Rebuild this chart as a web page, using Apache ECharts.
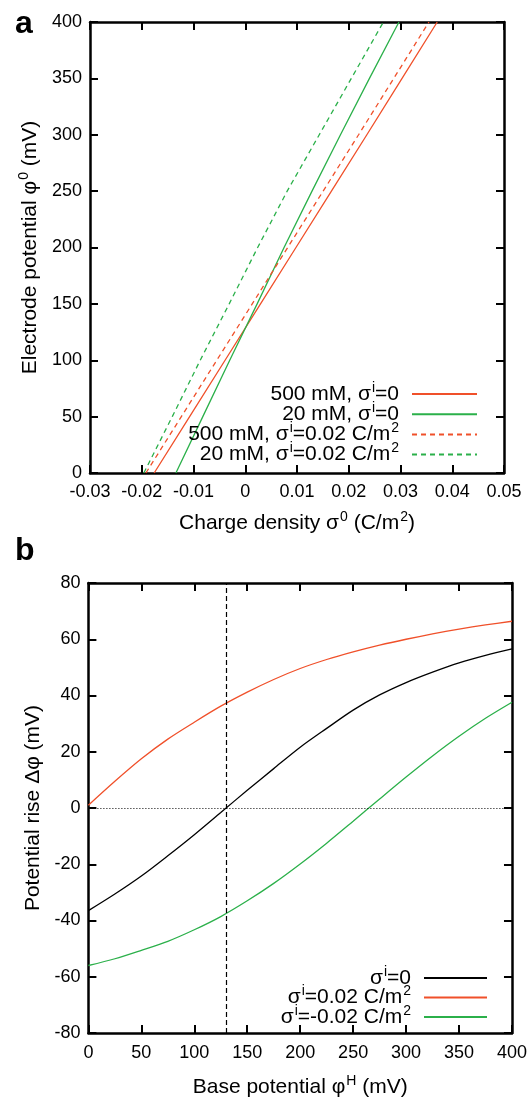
<!DOCTYPE html>
<html><head><meta charset="utf-8">
<script src="https://cdn.jsdelivr.net/npm/echarts@6/dist/echarts.min.js"></script>
<style>html,body{margin:0;padding:0;background:#fff}#c{width:530px;height:1099px}</style>
</head><body><div id="c"></div><script>
// ---------- Panel a data (electrode potential levels, mV -> charge density, C/m2) ----------
const aPotentialLevels = [0, 50, 100, 150, 200, 250, 300, 350, 400];
const a500mMZero   = [-0.0176, -0.01075, -0.0039, 0.00295, 0.0098, 0.01665, 0.0235, 0.0303, 0.0371];
const a20mMZero    = [-0.0134, -0.0082, -0.0030, 0.0023, 0.0075, 0.0129, 0.0184, 0.0240, 0.0297];
const a500mMCharged = [-0.0192, -0.01235, -0.0055, 0.00135, 0.0082, 0.01505, 0.0219, 0.0287, 0.0355];
const a20mMCharged  = [-0.0196, -0.0141, -0.0087, -0.0031, 0.0024, 0.0081, 0.0143, 0.0205, 0.0267];
const aXRange = [-0.03, 0.05, 0.01];
const aYRange = [0, 400, 50];

// ---------- Panel b data (base potential, mV -> potential rise, mV) ----------
const bBasePotential = [0, 25, 50, 75, 100, 125, 150, 175, 200, 225, 250, 275, 300, 325, 350, 375, 400];
const bZeroCharge = [-36.5, -30.6, -24.2, -17.0, -9.5, -1.6, 6.3, 14.0, 21.6, 28.3, 34.8, 40.2, 44.6, 48.3, 51.6, 54.3, 56.6];
const bPosCharge  = [1.0, 9.5, 17.5, 24.5, 30.5, 36.2, 41.2, 45.7, 49.6, 52.8, 55.5, 57.9, 60.0, 61.9, 63.6, 65.1, 66.4];
const bNegCharge  = [-56.0, -53.6, -50.6, -47.4, -43.3, -38.6, -33.0, -26.8, -19.9, -12.5, -4.7, 3.2, 11.0, 18.5, 25.5, 31.9, 37.6];
const bRefPotential = 130;
const bZeroRise = 0;
const bXRange = [0, 400, 50];
const bYRange = [-80, 80, 20];

const RED = '#f0502a';
const GREEN = '#2bb04a';
const FF = "'Liberation Sans', Arial, Helvetica, sans-serif";

const legendLabels = {
  'a1': '500 mM, σ{s|i}=0',
  'a2': '20 mM, σ{s|i}=0',
  'a3': '500 mM, σ{s|i}=0.02 C/m{s|2}',
  'a4': '20 mM, σ{s|i}=0.02 C/m{s|2}',
  'b1': 'σ{s|i}=0',
  'b2': 'σ{s|i}=0.02 C/m{s|2}',
  'b3': 'σ{s|i}=-0.02 C/m{s|2}'
};

const supRich = { s: { fontSize: 14, fontFamily: FF, color: '#000', verticalAlign: 'bottom', lineHeight: 20, padding: [0, 0, 9, 1] } };

function pairsA(xs) { return aPotentialLevels.map((y, i) => [xs[i], y]); }
function pairsB(ys) { return bBasePotential.map((x, i) => [x, ys[i]]); }

function axisBase(grid, range, pos, showLabel, nameObj, margin) {
  const o = {
    type: 'value', gridIndex: grid, min: range[0], max: range[1], interval: range[2], position: pos,
    axisLine: { show: true, onZero: false, lineStyle: { color: '#000', width: 2.5 } },
    axisTick: { show: true, inside: true, length: 8, lineStyle: { color: '#000', width: 2 } },
    axisLabel: { show: showLabel, color: '#000', fontSize: 18, fontFamily: FF, margin: margin || 9 },
    splitLine: { show: false }
  };
  if (nameObj) Object.assign(o, nameObj);
  return o;
}

const nameStyle = { fontSize: 21, fontFamily: FF, color: '#000', lineHeight: 20, rich: supRich };
const legendText = { fontSize: 21, fontFamily: FF, color: '#000', lineHeight: 20, rich: Object.assign({ g: { width: 8 } }, supRich) };

const option = {
  animation: false,
  backgroundColor: '#fff',
  title: [
    { text: 'a', left: 10, top: 3, textStyle: { fontSize: 32, fontWeight: 'bold', fontFamily: FF, color: '#000' } },
    { text: 'b', left: 10, top: 530, textStyle: { fontSize: 32, fontWeight: 'bold', fontFamily: FF, color: '#000' } }
  ],
  grid: [
    { left: 90, right: 26, top: 22, height: 451 },
    { left: 88.4, right: 15, top: 583, height: 450 }
  ],
  xAxis: [
    axisBase(0, aXRange, 'bottom', true, { name: 'Charge density σ{s|0} (C/m{s|2})', nameLocation: 'middle', nameGap: 40, nameTextStyle: nameStyle }, 10),
    axisBase(0, aXRange, 'top', false),
    axisBase(1, bXRange, 'bottom', true, { name: 'Base potential φ{s|H} (mV)', nameLocation: 'middle', nameGap: 44, nameTextStyle: nameStyle }, 11),
    axisBase(1, bXRange, 'top', false)
  ],
  yAxis: [
    axisBase(0, aYRange, 'left', true, { name: 'Electrode potential φ{s|0} (mV)', nameLocation: 'middle', nameGap: 47, nameTextStyle: nameStyle }, 8),
    axisBase(0, aYRange, 'right', false),
    axisBase(1, bYRange, 'left', true, { name: 'Potential rise Δφ (mV)', nameLocation: 'middle', nameGap: 45, nameTextStyle: nameStyle }, 8),
    axisBase(1, bYRange, 'right', false)
  ],
  legend: [
    {
      data: ['a1', 'a2', 'a3', 'a4'], orient: 'vertical', align: 'right', right: 52, top: 381, padding: 0,
      itemWidth: 65, itemHeight: 14, itemGap: -3.3, itemStyle: { opacity: 0 },
      formatter: n => legendLabels[n] + '{g|}', textStyle: legendText
    },
    {
      data: ['b1', 'b2', 'b3'], orient: 'vertical', align: 'right', right: 42, top: 965, padding: 0,
      itemWidth: 63, itemHeight: 14, itemGap: -4, itemStyle: { opacity: 0 },
      formatter: n => legendLabels[n] + '{g|}', textStyle: legendText
    }
  ],
  series: [
    { name: 'a1', type: 'line', xAxisIndex: 0, yAxisIndex: 0, data: pairsA(a500mMZero), symbol: 'none', lineStyle: { color: RED, width: 1.3 }, itemStyle: { color: RED, opacity: 0 } },
    { name: 'a2', type: 'line', xAxisIndex: 0, yAxisIndex: 0, data: pairsA(a20mMZero), symbol: 'none', lineStyle: { color: GREEN, width: 1.3 }, itemStyle: { color: GREEN, opacity: 0 } },
    { name: 'a3', type: 'line', xAxisIndex: 0, yAxisIndex: 0, data: pairsA(a500mMCharged), symbol: 'none', lineStyle: { color: RED, width: 1.3, type: [5, 4] }, itemStyle: { color: RED, opacity: 0 } },
    { name: 'a4', type: 'line', xAxisIndex: 0, yAxisIndex: 0, data: pairsA(a20mMCharged), symbol: 'none', lineStyle: { color: GREEN, width: 1.3, type: [5, 4] }, itemStyle: { color: GREEN, opacity: 0 } },
    {
      name: 'b1', type: 'line', xAxisIndex: 2, yAxisIndex: 2, data: pairsB(bZeroCharge), symbol: 'none', smooth: 0.3,
      lineStyle: { color: '#000', width: 1.3 }, itemStyle: { color: '#000', opacity: 0 },
      markLine: {
        silent: true, symbol: 'none', label: { show: false },
        data: [
          { yAxis: bZeroRise, lineStyle: { color: '#000', width: 1, type: [1, 2], opacity: 1 } },
          { xAxis: bRefPotential, lineStyle: { color: '#000', width: 1.2, type: [5, 3], opacity: 1 } }
        ]
      }
    },
    { name: 'b2', type: 'line', xAxisIndex: 2, yAxisIndex: 2, data: pairsB(bPosCharge), symbol: 'none', smooth: 0.3, lineStyle: { color: RED, width: 1.3 }, itemStyle: { color: RED, opacity: 0 } },
    { name: 'b3', type: 'line', xAxisIndex: 2, yAxisIndex: 2, data: pairsB(bNegCharge), symbol: 'none', smooth: 0.3, lineStyle: { color: GREEN, width: 1.3 }, itemStyle: { color: GREEN, opacity: 0 } }
  ]
};
const chart = echarts.init(document.getElementById('c'), null, { renderer: 'canvas' });
chart.setOption(option);
</script></body></html>
